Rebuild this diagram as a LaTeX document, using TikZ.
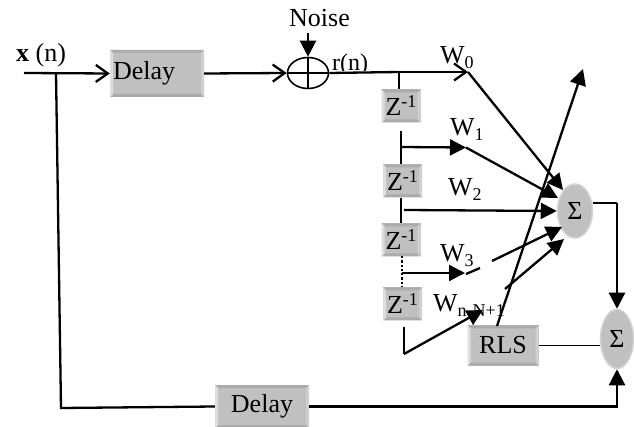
\documentclass[tikz,border=0pt]{standalone}
\usepackage{fontspec}
\setmainfont{Liberation Serif}
\usetikzlibrary{arrows.meta,shapes.geometric,calc}
\definecolor{boxgray}{HTML}{C0C0C0}
\definecolor{edgegray}{HTML}{D4D4D4}
\definecolor{bevdark}{HTML}{ABABAB}
\definecolor{bevlight}{HTML}{DEDEDE}
\definecolor{bevmid}{HTML}{D0D0D0}
\tikzset{
  wire/.style={line width=2.3pt,line cap=butt},
  thin wire/.style={line width=1.8pt},
  fa/.style={wire,-{Triangle[length=16pt,width=16pt]}},
  oa/.style={wire,-{Straight Barb[length=12pt,width=17pt,line width=2.3pt]}},
  gbox/.style={rectangle,fill=boxgray,draw=none,inner sep=0pt,font=\fontsize{26}{26}\selectfont,
    path picture={
      \fill[bevdark] (path picture bounding box.north west) -- (path picture bounding box.north east) -- ([shift={(-3,3)}]path picture bounding box.north east) -- ([shift={(3,3)}]path picture bounding box.north west) -- cycle;
      \fill[bevdark] (path picture bounding box.south west) -- (path picture bounding box.south east) -- ([shift={(-3,-3)}]path picture bounding box.south east) -- ([shift={(3,-3)}]path picture bounding box.south west) -- cycle;
      \fill[bevlight] (path picture bounding box.north west) -- (path picture bounding box.south west) -- ([shift={(3,-3)}]path picture bounding box.south west) -- ([shift={(3,3)}]path picture bounding box.north west) -- cycle;
      \fill[bevmid] (path picture bounding box.north east) -- (path picture bounding box.south east) -- ([shift={(-3,-3)}]path picture bounding box.south east) -- ([shift={(-3,3)}]path picture bounding box.north east) -- cycle;
    }},
  sumnode/.style={ellipse,fill=boxgray,draw=edgegray,line width=1.5pt,inner sep=0pt,font=\fontsize{26}{26}\selectfont},
  lab/.style={anchor=base west,inner sep=0pt,font=\fontsize{26}{26}\selectfont},
  zbox/.style={gbox,minimum width=39pt,minimum height=33pt}
}
\newcommand{\Zinv}{Z\raisebox{8pt}{\fontsize{18}{18}\selectfont -1}}
\newcommand{\Wlab}[1]{W\raisebox{-5pt}{\fontsize{18}{18}\selectfont #1}}
\begin{document}
\begin{tikzpicture}[x=1pt,y=-1pt]
\useasboundingbox (0,0) rectangle (634,427);
% boxes
\node[gbox,minimum width=94pt,minimum height=47pt,text width=94pt,align=left] (d1) at (157,73.5) {\hspace{3pt}\raisebox{3pt}{Delay}};
\node[zbox] (z1) at (401,106) {\Zinv};
\node[zbox] (z2) at (402.5,181) {\Zinv};
\node[zbox] (z3) at (401,240) {\Zinv};
\node[zbox] (z4) at (402.5,304) {\Zinv};
\node[gbox,minimum width=71pt,minimum height=40pt] (rls) at (503,345.5) {RLS};
\node[gbox,minimum width=94pt,minimum height=43pt] (d2) at (262,406.5) {\raisebox{1pt}{Delay}};
\node[sumnode,minimum width=35pt,minimum height=54pt] (s1) at (575,211) {Σ};
\node[sumnode,minimum width=33pt,minimum height=59pt] (s2) at (617,339) {Σ};
\node[ellipse,draw,line width=1.6pt,minimum width=41pt,minimum height=31pt,inner sep=0pt] (add) at (308,73) {};
\draw[line width=1.6pt] (add.north) -- (add.south) (add.west) -- (add.east);
% coordinates
\coordinate (in) at (24,73);
\coordinate (tap) at (56,73);
\coordinate (corner) at (61,408);
\coordinate (noisetop) at (308,33);
\coordinate (w0) at (468,72);
\coordinate (t1) at (399,72);
\coordinate (v1a) at (401,131);
\coordinate (v1b) at (401,147);
\coordinate (w1) at (466,147.5);
\coordinate (v2a) at (404,210);
\coordinate (v3a) at (402,256);
\coordinate (v3b) at (402,273);
\coordinate (w3) at (465,273);
\coordinate (w3a) at (466,274);
\coordinate (w3b) at (480,268);
\coordinate (w3c) at (492,261);
\coordinate (w4) at (505,289);
\coordinate (v4a) at (404,327);
\coordinate (v4b) at (404,354);
\coordinate (w5) at (483,310);
\coordinate (rlsout) at (497,326);
\coordinate (rlstip) at (583,69);
\coordinate (s1out) at (593,203);
\coordinate (s1turn) at (617,203);
% text
\node[lab] (noise) at (289,27) {Noise};
\node[lab] (xn) at (16,62) {\textbf{x} (n)};
\begin{scope}
\clip (325,40) rectangle (380,70.5);
\node[lab,font=\fontsize{24}{24}\selectfont] (rn) at (332,71) {r(n)};
\end{scope}
\node[lab] (lw0) at (440,64) {\Wlab{0}};
\node[lab] (lw1) at (450,136) {\Wlab{1}};
\node[lab] (lw2) at (448,196) {\Wlab{2}};
\node[lab] (lw3) at (440,262) {\Wlab{3}};
\node[lab] (lwn) at (433,312) {\Wlab{n-N+1}};
% connectors
\draw[oa] (in) -- (d1.west);
\draw[oa] (d1.east) -- (add.west);
\draw[wire] (tap) -- (corner) -- (d2.west);
\draw[fa] (d2.east) -| (s2.south);
\draw[fa] (noisetop) -- (add.north);
\draw[wire] (add.east) -- (t1);
\draw[oa] (t1) -- (w0);
\draw[wire] (t1) -- (t1 |- z1.north);
\draw[wire] (v1a) -- (v1a |- z2.north);
\draw[wire] (v1a |- z2.south) -- (v1a |- z3.north);
\draw[fa] (v1b) -- (w1);
\draw[fa] (w0) -- (563,190);
\draw[fa] (w1) -- (558,198);
\draw[fa] (v2a) -- (s1.west);
\draw[wire,dotted] (v3a) -- (v3a |- z4.north);
\draw[fa] (v3b) -- (w3);
\draw[wire] (w3a) -- (w3b);
\draw[fa] (w3c) -- (562,227);
\draw[fa] (w4) -- (564,239);
\draw[wire] (v4a) -- (v4b);
\draw[fa] (v4b) -- (w5);
\draw[fa] (rlsout) -- (rlstip);
\draw[thin wire] (rls.east) -- (rls.east -| s2.west);
\draw[thin wire] (s1out) -- (s1turn);
\draw[fa] (s1turn) -- (s2.north);
\end{tikzpicture}
\end{document}
